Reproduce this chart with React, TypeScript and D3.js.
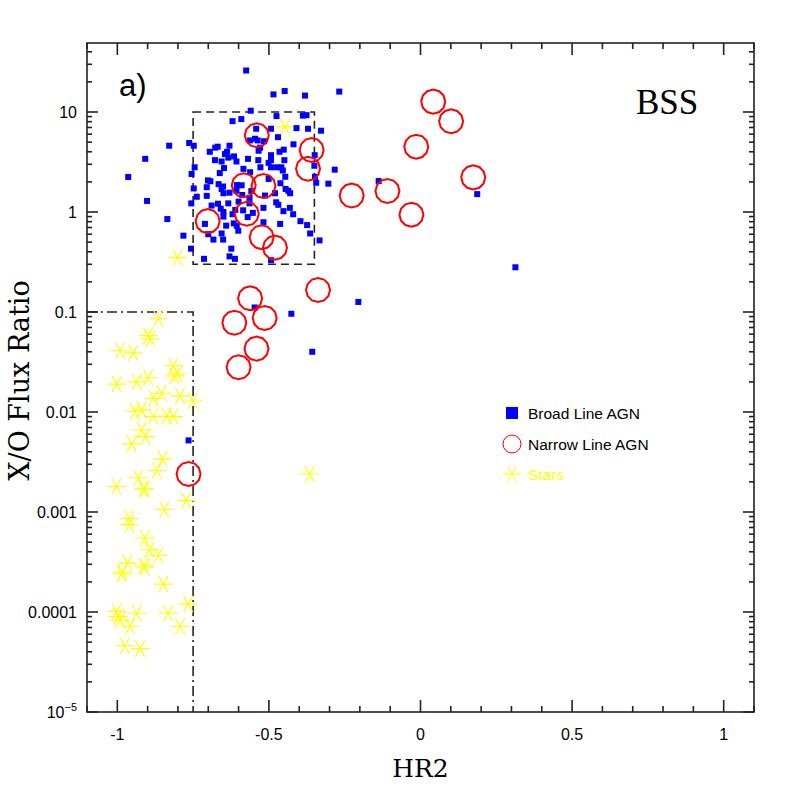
import React, { useEffect, useRef } from "react";
import * as d3 from "d3";

// [HR2, X/O flux ratio]
const broadLine: [number, number][] = [
  [-0.575, 26], [-0.485, 15], [-0.448, 16.2], [-0.381, 14.6], [-0.268, 16], [-0.56, 10.3],
  [-0.62, 8.1], [-0.591, 8.5], [-0.475, 9.1], [-0.388, 9.2], [-0.376, 9.3], [-0.542, 6.8],
  [-0.493, 6.8], [-0.409, 6.9], [-0.371, 6.8], [-0.328, 6.5], [-0.47, 5.6], [-0.546, 5.4],
  [-0.562, 5.2], [-0.537, 5.2], [-0.516, 5.1], [-0.829, 4.6], [-0.763, 4.9], [-0.748, 4.6],
  [-0.419, 4.75], [-0.695, 4.0], [-0.677, 4.4], [-0.669, 4.5], [-0.63, 4.6], [-0.645, 3.8],
  [-0.638, 4.0], [-0.534, 4.1], [-0.529, 4.4], [-0.451, 4.2], [-0.465, 4.0], [-0.908, 3.4],
  [-0.678, 3.3], [-0.656, 3.2], [-0.634, 3.5], [-0.615, 3.6], [-0.607, 3.2], [-0.569, 3.4],
  [-0.535, 3.3], [-0.493, 3.7], [-0.493, 3.3], [-0.449, 3.3], [-0.501, 3.1], [-0.473, 2.8],
  [-0.459, 2.8], [-0.454, 2.6], [-0.745, 2.8], [-0.648, 2.75], [-0.584, 2.7], [-0.528, 2.8],
  [-0.493, 2.8], [-0.35, 2.9], [-0.349, 3.7], [-0.283, 2.65], [-0.755, 2.4], [-0.662, 2.45],
  [-0.562, 2.5], [-0.446, 2.25], [-0.964, 2.24], [-0.701, 2.07], [-0.693, 2.03], [-0.666, 1.9],
  [-0.651, 1.8], [-0.606, 1.86], [-0.59, 1.85], [-0.501, 2.14], [-0.462, 1.94], [-0.348, 2.25],
  [-0.344, 1.96], [-0.304, 1.92], [-0.748, 1.72], [-0.705, 1.77], [-0.656, 1.7], [-0.65, 1.54],
  [-0.607, 1.63], [-0.588, 1.48], [-0.558, 1.62], [-0.63, 1.56], [-0.445, 1.7], [-0.436, 1.63],
  [-0.48, 1.54], [-0.43, 1.54], [-0.738, 1.42], [-0.705, 1.45], [-0.564, 1.39], [-0.513, 1.46],
  [-0.902, 1.29], [-0.756, 1.22], [-0.689, 1.16], [-0.668, 1.21], [-0.634, 1.22], [-0.6, 1.27],
  [-0.564, 1.22], [-0.518, 1.1], [-0.476, 1.25], [-0.469, 1.18], [-0.431, 1.1], [-0.659, 1.08],
  [-0.65, 1.0], [-0.611, 1.05], [-0.585, 1.04], [-0.553, 0.98], [-0.452, 1.02], [-0.42, 0.95],
  [-0.65, 0.9], [-0.62, 0.95], [-0.57, 0.89], [-0.396, 0.81], [-0.835, 0.85], [-0.711, 0.76],
  [-0.641, 0.73], [-0.616, 0.77], [-0.606, 0.73], [-0.518, 0.79], [-0.463, 0.76], [-0.374, 0.74],
  [-0.7, 0.6], [-0.656, 0.61], [-0.601, 0.65], [-0.364, 0.61], [-0.782, 0.58], [-0.683, 0.53],
  [-0.651, 0.53], [-0.333, 0.52], [-0.757, 0.43], [-0.624, 0.43], [-0.63, 0.36], [-0.612, 0.34],
  [-0.714, 0.34], [-0.493, 0.33], [-0.138, 2.04], [0.187, 1.51], [0.313, 0.28], [-0.547, 0.111],
  [-0.426, 0.096], [-0.357, 0.04], [-0.765, 0.0052], [-0.205, 0.126],
];

const narrowLine: [number, number][] = [
  [-0.54, 5.85], [-0.359, 4.17], [-0.371, 2.71], [-0.583, 1.85], [-0.518, 1.82], [-0.573, 0.96],
  [-0.702, 0.81], [-0.524, 0.56], [-0.48, 0.44], [0.042, 12.7], [0.101, 8.07], [-0.014, 4.5],
  [0.174, 2.22], [-0.227, 1.46], [-0.109, 1.62], [-0.03, 0.94], [-0.562, 0.137], [-0.338, 0.166],
  [-0.614, 0.078], [-0.514, 0.087], [-0.541, 0.043], [-0.6, 0.028], [-0.765, 0.0024],
];

const stars: [number, number][] = [
  [-0.865, 0.086], [-0.899, 0.058], [-0.891, 0.054], [-0.991, 0.041], [-0.947, 0.039],
  [-0.815, 0.029], [-0.801, 0.024], [-0.812, 0.023], [-1.002, 0.019], [-0.936, 0.02],
  [-0.898, 0.022], [-0.854, 0.0154], [-0.881, 0.0137], [-0.793, 0.0145], [-0.751, 0.0129],
  [-0.942, 0.0101], [-0.92, 0.0105], [-0.881, 0.009], [-0.837, 0.0091], [-0.815, 0.009],
  [-0.92, 0.0066], [-0.907, 0.0057], [-0.953, 0.0048], [-0.851, 0.0034], [-0.87, 0.0026],
  [-1.003, 0.0018], [-0.931, 0.0022], [-0.914, 0.0017], [-0.909, 0.0017], [-0.773, 0.0013],
  [-0.845, 0.00106], [-0.961, 0.00086], [-0.366, 0.0024], [-0.96, 0.00075], [-0.909, 0.00055],
  [-0.894, 0.00042], [-0.865, 0.00037], [-0.967, 0.00031], [-0.914, 0.00029], [-0.909, 0.00028],
  [-0.983, 0.00025], [-0.986, 0.00024], [-0.848, 0.00019], [-0.766, 0.00012], [-1.002, 0.000101],
  [-0.997, 0.00009], [-0.991, 0.000083], [-0.936, 0.000097], [-0.958, 0.000072], [-0.832, 0.000097],
  [-0.793, 0.000072], [-0.975, 0.000046], [-0.925, 0.000043], [-0.447, 7.1], [-0.802, 0.35],
];

const xTicks = [-1, -0.5, 0, 0.5, 1];
const yTicks = [10, 1, 0.1, 0.01, 0.001, 0.0001, 0.00001];
const yTickLabels = ["10", "1", "0.1", "0.01", "0.001", "0.0001", ""];
const legendItems = ["Broad Line AGN", "Narrow Line AGN", "Stars"];

const polygonPath = (cx: number, cy: number, r: number, n: number) =>
  d3.line()(d3.range(n).map((i) => [cx + r * Math.cos((2 * Math.PI * i) / n), cy + r * Math.sin((2 * Math.PI * i) / n)] as [number, number])) + "Z";

const starPath = (cx: number, cy: number, r: number) =>
  [0, 60, 120]
    .map((a) => {
      const dx = r * Math.cos((a * Math.PI) / 180);
      const dy = r * Math.sin((a * Math.PI) / 180);
      return `M${cx - dx},${cy - dy}L${cx + dx},${cy + dy}`;
    })
    .join("");

export default function App() {
  const ref = useRef<SVGSVGElement>(null);

  useEffect(() => {
    const width = 797;
    const height = 797;
    const left = 87, right = 754, top = 43, bottom = 712;
    const svg = d3.select(ref.current).attr("width", width).attr("height", height);
    svg.selectAll("*").remove();

    const x = d3.scaleLinear().domain([-1.1, 1.1]).range([left, right]);
    const y = d3.scaleLog().domain([1e-5, Math.pow(10, 1.69)]).range([bottom, top]);

    const axisColor = "#222";
    const sans = "Liberation Sans, Arial, sans-serif";
    const serif = "DejaVu Serif, serif";

    // reference boxes
    const g = svg.append("g");
    g.append("rect")
      .attr("x", x(-0.75)).attr("y", y(10))
      .attr("width", x(-0.35) - x(-0.75)).attr("height", y(0.3) - y(10))
      .attr("fill", "none").attr("stroke", axisColor).attr("stroke-width", 1.6)
      .attr("stroke-dasharray", "8,5");
    g.append("path")
      .attr("d", `M${left},${y(0.1)}L${x(-0.75)},${y(0.1)}L${x(-0.75)},${bottom}`)
      .attr("fill", "none").attr("stroke", axisColor).attr("stroke-width", 1.6)
      .attr("stroke-dasharray", "10,4,2,4");

    // stars
    g.selectAll(".star").data(stars).enter().append("path")
      .attr("d", (d) => starPath(x(d[0]), y(d[1]), 9.5))
      .attr("stroke", "#ffff00").attr("stroke-width", 1.1).attr("fill", "none");

    // broad line AGN
    g.selectAll(".bl").data(broadLine).enter().append("rect")
      .attr("x", (d) => x(d[0]) - 3).attr("y", (d) => y(d[1]) - 3)
      .attr("width", 6).attr("height", 6).attr("fill", "#0000ff");

    // narrow line AGN
    g.selectAll(".nl").data(narrowLine).enter().append("path")
      .attr("d", (d) => polygonPath(x(d[0]), y(d[1]), 12, 12))
      .attr("fill", "none").attr("stroke", "#ff0000").attr("stroke-width", 2);

    // frame and ticks
    const ax = svg.append("g").attr("stroke", axisColor).attr("stroke-width", 1.6);
    ax.append("rect").attr("x", left).attr("y", top).attr("width", right - left).attr("height", bottom - top).attr("fill", "none");
    d3.range(-11, 12).forEach((i) => {
      const v = i / 10;
      const major = i % 5 === 0;
      const len = major ? 12 : 6;
      const px = x(v);
      ax.append("line").attr("x1", px).attr("x2", px).attr("y1", bottom).attr("y2", bottom - len);
      ax.append("line").attr("x1", px).attr("x2", px).attr("y1", top).attr("y2", top + len);
    });
    d3.range(-5, 2).forEach((e) => {
      d3.range(1, 10).forEach((m) => {
        const v = m * Math.pow(10, e);
        if (v > y.domain()[1]) return;
        const len = m === 1 ? 11 : 5;
        const py = y(v);
        ax.append("line").attr("x1", left).attr("x2", left + len).attr("y1", py).attr("y2", py);
        ax.append("line").attr("x1", right).attr("x2", right - len).attr("y1", py).attr("y2", py);
      });
    });

    // tick labels
    svg.selectAll(".xt").data(xTicks).enter().append("text")
      .attr("x", (d) => x(d)).attr("y", 740)
      .attr("text-anchor", "middle").attr("font-family", sans).attr("font-size", 16)
      .text((d) => String(d));
    svg.selectAll(".yt").data(yTicks).enter().append("text")
      .attr("x", 77).attr("y", (d) => y(d) + 6)
      .attr("text-anchor", "end").attr("font-family", sans).attr("font-size", 16)
      .text((d, i) => yTickLabels[i]);
    const sup = svg.append("text").attr("x", 77).attr("y", y(1e-5) + 6)
      .attr("text-anchor", "end").attr("font-family", sans).attr("font-size", 16);
    sup.append("tspan").text("10");
    sup.append("tspan").attr("dy", -7).attr("font-size", 11).text("−5");

    // axis titles
    svg.append("text").attr("x", x(0)).attr("y", 777)
      .attr("text-anchor", "middle").attr("font-family", serif).attr("font-size", 25)
      .text("HR2");
    svg.append("text")
      .attr("transform", `translate(29, ${(top + bottom) / 2 + 3}) rotate(-90)`)
      .attr("text-anchor", "middle").attr("font-family", serif).attr("font-size", 27)
      .text("X/O Flux Ratio");

    svg.append("text").attr("x", 119).attr("y", 96)
      .attr("font-family", sans).attr("font-size", 31).text("a)");
    svg.append("text").attr("x", 636).attr("y", 114)
      .attr("font-family", "Liberation Serif, serif").attr("font-size", 35).text("BSS");

    // legend
    const lg = svg.append("g");
    const lx = 512;
    const ly = [413, 444, 474];
    lg.append("rect").attr("x", lx - 6).attr("y", ly[0] - 6).attr("width", 12).attr("height", 12).attr("fill", "#0000ff");
    lg.append("path").attr("d", polygonPath(lx, ly[1], 9, 16)).attr("fill", "none").attr("stroke", "#ff0000").attr("stroke-width", 1);
    lg.append("path").attr("d", starPath(lx, ly[2], 9)).attr("stroke", "#ffff00").attr("stroke-width", 1);
    lg.selectAll(".lt").data(legendItems).enter().append("text")
      .attr("x", 528).attr("y", (d, i) => ly[i] + 6)
      .attr("font-family", sans).attr("font-size", 15.5)
      .attr("fill", (d, i) => (i === 2 ? "#ffff00" : "#000"))
      .text((d) => d);
  }, []);

  return <svg ref={ref} style={{ position: "absolute", left: 0, top: 0 }}></svg>;
}
